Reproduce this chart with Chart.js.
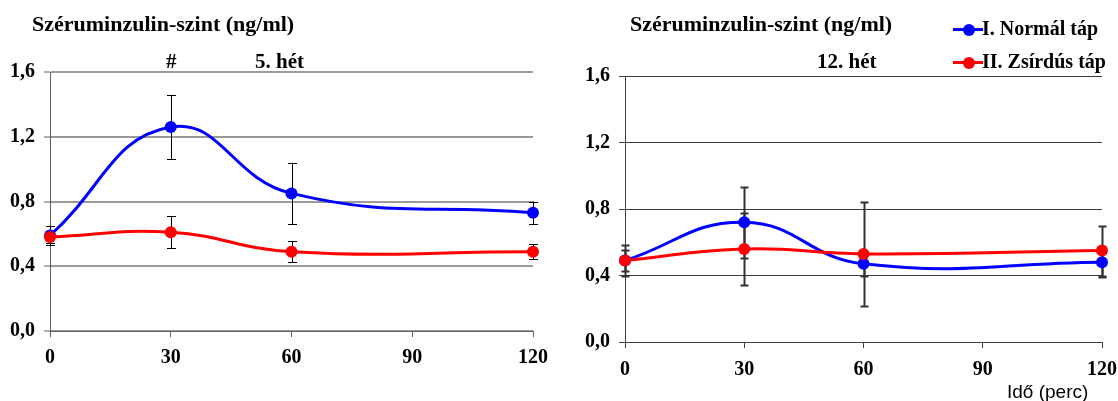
<!DOCTYPE html>
<html><head><meta charset="utf-8">
<script src="https://cdn.jsdelivr.net/npm/chart.js@4"></script>
<style>
html,body{margin:0;padding:0;background:#fff;}
#wrap{position:relative;width:1118px;height:401px;overflow:hidden;background:#fff;}
canvas{position:absolute;top:0;}
.t{position:absolute;font-family:"Liberation Serif","Times New Roman",serif;font-weight:bold;white-space:nowrap;color:#000;}
.t22{font-size:22px;line-height:22px;}
.t21{font-size:21px;line-height:21px;}
.t20{font-size:20px;line-height:20px;}
.sans{position:absolute;font-family:"Liberation Sans",Arial,sans-serif;font-size:19px;line-height:19px;white-space:nowrap;color:#000;}
.lg{position:absolute;height:3px;width:30px;}
.lg i{position:absolute;left:10px;top:-4.5px;width:12px;height:12px;border-radius:50%;}
</style>
</head><body>
<div id="wrap">
<canvas id="c1" width="560" height="401" style="left:0"></canvas>
<canvas id="c2" width="558" height="401" style="left:560px"></canvas>
<div class="t t22" style="left:32px;top:13px">Széruminzulin-szint (ng/ml)</div>
<div class="t t21" style="left:166px;top:51px">#</div>
<div class="t t21" style="left:255px;top:51px">5. hét</div>
<div class="t t22" style="left:630px;top:13px">Széruminzulin-szint (ng/ml)</div>
<div class="t t21" style="left:817px;top:51px">12. hét</div>
<div class="lg" style="left:953px;top:28px;background:#0000ff"><i style="background:#0000ff"></i></div>
<div class="t t20" style="left:982px;top:18px">I. Normál táp</div>
<div class="lg" style="left:953px;top:61px;background:#ff0000"><i style="background:#ff0000"></i></div>
<div class="t t20" style="left:982px;top:51px">II. Zsírdús táp</div>
<div class="sans" style="left:1007px;top:382px">Idő (perc)</div>
</div>
<script>
// Time points (minutes)
const times = [0, 30, 60, 120];
const xTicks = [0, 30, 60, 90, 120];
const yTicks = [0, 0.4, 0.8, 1.2, 1.6];
const seriesNames = ['I. Normál táp', 'II. Zsírdús táp'];

// Week 5
const w5Normal    = [0.59, 1.26, 0.85, 0.73];
const w5NormalErr = [0.06, 0.20, 0.19, 0.07];
const w5Fat       = [0.58, 0.61, 0.49, 0.49];
const w5FatErr    = [0.035, 0.10, 0.065, 0.047];

// Week 12
const w12Normal    = [0.49, 0.72, 0.47, 0.48];
const w12NormalErr = [0.095, 0.215, 0.07, 0.09];
const w12Fat       = [0.49, 0.56, 0.53, 0.55];
const w12FatErr    = [0.065, 0.215, 0.315, 0.15];

const BLUE = '#0000ff', RED = '#ff0000';
const FONT = {family: '"Liberation Serif","Times New Roman",serif', size: 20, weight: 'bold'};

function pts(vals){ return times.map((t,i)=>({x:t, y:vals[i]})); }
function fmt(v){ return v.toFixed(1).replace('.', ','); }

const errorBars = {
  id: 'errorBars',
  beforeDatasetsDraw(chart, args, opts) {
    const {ctx, scales:{x, y}} = chart;
    ctx.save();
    ctx.strokeStyle = opts.color;
    ctx.lineWidth = opts.width;
    chart.data.datasets.forEach(ds => {
      const errs = ds.errors || [];
      ds.data.forEach((p, i) => {
        const e = errs[i]; if (e == null) return;
        const px = Math.round(x.getPixelForValue(p.x)) + 0.5;
        const top = y.getPixelForValue(p.y + e);
        const bot = y.getPixelForValue(p.y - e);
        ctx.beginPath();
        ctx.moveTo(px, top); ctx.lineTo(px, bot);
        ctx.moveTo(px - opts.cap, Math.round(top)+0.5); ctx.lineTo(px + opts.cap, Math.round(top)+0.5);
        ctx.moveTo(px - opts.cap, Math.round(bot)+0.5); ctx.lineTo(px + opts.cap, Math.round(bot)+0.5);
        ctx.stroke();
      });
    });
    ctx.restore();
  }
};

function makeChart(id, normal, normalErr, fat, fatErr, cfg) {
  return new Chart(document.getElementById(id), {
    type: 'line',
    data: {
      datasets: [
        {label: seriesNames[0], data: pts(normal), errors: normalErr, borderColor: BLUE, backgroundColor: BLUE,
         borderWidth: 3, pointRadius: cfg.r, pointBorderWidth: 0, tension: 0.45, clip: false, order: 1},
        {label: seriesNames[1], data: pts(fat), errors: fatErr, borderColor: RED, backgroundColor: RED,
         borderWidth: 3, pointRadius: cfg.r, pointBorderWidth: 0, tension: 0.45, clip: false, order: 0}
      ]
    },
    plugins: [errorBars],
    options: {
      responsive: false, animation: false, devicePixelRatio: 1,
      layout: {padding: {top: cfg.top, right: cfg.right, left: 0, bottom: 0}},
      plugins: {legend: {display: false}, tooltip: {enabled: false},
        errorBars: {color: cfg.errColor, width: cfg.errWidth, cap: cfg.cap}},
      scales: {
        x: {type: 'linear', min: 0, max: 120,
            afterBuildTicks: s => { s.ticks = xTicks.map(v => ({value: v})); },
            afterFit: s => { s.height = cfg.xh; s.paddingLeft = 0; s.paddingRight = 0; },
            ticks: {font: FONT, color: '#000', padding: cfg.xpad, maxRotation: 0, autoSkip: false},
            grid: {drawOnChartArea: false, drawTicks: true, tickLength: 6, color: cfg.axisColor, lineWidth: 1},
            border: {color: cfg.axisColor, width: 1}},
        y: {type: 'linear', min: 0, max: 1.6,
            afterBuildTicks: s => { s.ticks = yTicks.map(v => ({value: v})); },
            afterFit: s => { s.width = cfg.yw; s.paddingTop = 0; s.paddingBottom = 0; },
            ticks: {font: FONT, color: '#000', padding: 9, callback: v => fmt(v)},
            grid: {color: cfg.gridColor, lineWidth: cfg.gridWidth, tickLength: 6, tickColor: cfg.axisColor, tickWidth: 1},
            border: {color: cfg.axisColor, width: 1}}
      }
    }
  });
}

makeChart('c1', w5Normal, w5NormalErr, w5Fat, w5FatErr,
  {top: 72, right: 27, xh: 70, yw: 50, xpad: 9, r: 6, gridColor: '#9a9a9a', gridWidth: 2,
   axisColor: '#606060', errColor: '#000', errWidth: 1, cap: 4.5});
makeChart('c2', w12Normal, w12NormalErr, w12Fat, w12FatErr,
  {top: 76, right: 16, xh: 59, yw: 65, xpad: 10, r: 6, gridColor: '#3a3a3a', gridWidth: 1,
   axisColor: '#404040', errColor: '#333', errWidth: 2, cap: 4});
</script>
</body></html>
